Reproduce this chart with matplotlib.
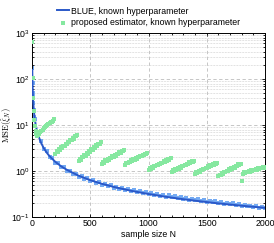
import numpy as np
import matplotlib
matplotlib.use("Agg")
import matplotlib.pyplot as plt
from matplotlib.ticker import MultipleLocator, LogLocator, NullFormatter

plt.rcParams["font.family"] = ["Liberation Sans", "DejaVu Sans"]
plt.rcParams["mathtext.fontset"] = "cm"

# BLUE (theoretical curve)
blue_n = [2, 3, 4, 5, 6, 8, 10, 15, 20, 30, 40, 50, 75, 100, 125, 150, 200, 250, 300,
          400, 500, 600, 700, 850, 1000, 1150, 1300, 1450, 1600, 1800, 2000]
blue_mse = [160, 107, 80, 64, 53, 40, 32, 21.3, 16, 10.7, 8.0, 6.4, 4.27, 3.2, 2.56, 2.13,
            1.6, 1.28, 1.07, 0.8, 0.64, 0.533, 0.457, 0.376, 0.32, 0.278, 0.246, 0.221,
            0.2, 0.178, 0.16]

# BLUE (empirical points)
emp_n = [2, 4, 6, 8, 10, 15, 20] + list(range(25, 2001, 25))
emp_mse = [175, 85, 50, 42, 30, 22, 15,
           13.5, 6.1, 4.5, 3.0, 2.7, 2.05, 1.92, 1.52, 1.49, 1.22, 1.21, 1.02,
           1.03, 0.87, 0.89, 0.76, 0.79, 0.68, 0.70, 0.61, 0.64, 0.55, 0.58, 0.51,
           0.535, 0.47, 0.50, 0.44, 0.46, 0.41, 0.435, 0.385, 0.405, 0.37, 0.385, 0.35,
           0.37, 0.335, 0.355, 0.32, 0.335, 0.305, 0.325, 0.29, 0.31, 0.28, 0.30, 0.27,
           0.285, 0.26, 0.275, 0.25, 0.265, 0.24, 0.255, 0.235, 0.245, 0.225, 0.24, 0.215,
           0.23, 0.21, 0.22, 0.20, 0.215, 0.195, 0.205, 0.19, 0.20, 0.185, 0.19, 0.18,
           0.185, 0.172, 0.18, 0.167, 0.175, 0.162, 0.17, 0.158]

# proposed estimator
green_n = ([1, 5, 10, 15, 20, 25, 30, 35, 40, 50, 60, 70, 80, 90, 100, 110, 120, 130,
            140, 150, 160, 170, 180, 190] + list(range(200, 2001, 10)))
green_mse = [650, 105, 40, 20, 13, 9.5, 7.5, 6.3, 5.8, 6.0, 6.5, 7.0, 7.6, 8.0, 8.6, 9.0,
             9.6, 10.0, 10.6, 11.0, 11.6, 12.0, 12.6, 13.5,
             2.4, 2.75, 2.6, 3.0, 2.9, 3.3, 3.2, 3.6, 3.5, 4.0, 3.9, 4.4, 4.3, 4.8, 4.7,
             5.3, 5.1, 5.8, 5.7, 6.2,
             1.65, 1.85, 1.8, 2.05, 2.0, 2.25, 2.2, 2.45, 2.4, 2.75, 2.65, 3.0, 2.95, 3.3,
             3.25, 3.65, 3.5, 4.0, 3.9, 4.3,
             1.45, 1.6, 1.55, 1.72, 1.68, 1.84, 1.8, 1.98, 1.92, 2.1, 2.05, 2.26, 2.2, 2.42,
             2.35, 2.6, 2.52, 2.78, 2.7, 2.9,
             1.4, 1.53, 1.5, 1.62, 1.6, 1.72, 1.68, 1.82, 1.78, 1.93, 1.88, 2.05, 2.0, 2.16,
             2.1, 2.3, 2.24, 2.42, 2.36, 2.5,
             1.06, 1.16, 1.13, 1.24, 1.2, 1.3, 1.27, 1.38, 1.35, 1.46, 1.42, 1.55, 1.51, 1.64,
             1.6, 1.74, 1.7, 1.84, 1.8, 1.9,
             0.95, 1.04, 1.01, 1.1, 1.07, 1.17, 1.13, 1.24, 1.2, 1.31, 1.27, 1.38, 1.35, 1.47,
             1.42, 1.56, 1.51, 1.65, 1.6, 1.7,
             0.87, 0.95, 0.93, 1.01, 0.98, 1.07, 1.04, 1.13, 1.1, 1.2, 1.16, 1.27, 1.23, 1.34,
             1.3, 1.42, 1.38, 1.51, 1.46, 1.55,
             0.78, 0.85, 0.83, 0.91, 0.88, 0.97, 0.94, 1.03, 1.0, 1.1, 1.06, 1.17, 1.13, 1.24,
             1.2, 1.32, 1.28, 1.41, 1.36, 1.45,
             0.62, 0.88, 0.94, 0.92, 0.97, 0.95, 1.0, 0.98, 1.04, 1.01, 1.07, 1.05, 1.11, 1.08,
             1.15, 1.12, 1.19, 1.16, 1.23, 1.2, 1.25]

fig = plt.figure(figsize=(2.74, 2.43), dpi=100)
ax = fig.add_axes([0.117, 0.106, 0.85, 0.757])

ax.scatter(emp_n, emp_mse, s=6, marker="s", color="#74aaf2", linewidths=0, zorder=2)
ax.plot(blue_n, blue_mse, color="#2a58c8", lw=1.4, zorder=3,
        label="BLUE, known hyperparameter")
ax.scatter(green_n, green_mse, s=6, marker="s", color="#86e8a0", linewidths=0, zorder=4,
           label="proposed estimator, known hyperparameter")

ax.set_yscale("log")
ax.set_xlim(0, 2000)
ax.set_ylim(0.1, 1000)
ax.xaxis.set_major_locator(MultipleLocator(500))
ax.xaxis.set_minor_locator(MultipleLocator(100))
ax.yaxis.set_major_locator(LogLocator(base=10, numticks=10))
ax.yaxis.set_minor_locator(LogLocator(base=10, subs=np.arange(2, 10), numticks=20))
ax.yaxis.set_minor_formatter(NullFormatter())

ax.grid(which="major", axis="both", color="#bdbdbd", ls=(0, (4, 3)), lw=0.6)
ax.grid(which="minor", axis="y", color="#c4c4c4", ls=(0, (1, 1.2)), lw=0.5)
ax.set_axisbelow(True)

ax.tick_params(which="both", direction="in", top=True, right=True, labelsize=6.3,
               width=0.6, pad=1.5)
ax.tick_params(which="major", length=2.5)
ax.tick_params(which="minor", length=1.5)
for s in ax.spines.values():
    s.set_linewidth(0.7)

ax.set_xlabel("sample size N", fontsize=6.3, labelpad=1)
ax.set_ylabel(r"$\mathrm{MSE}(\hat{\xi}_N)$", fontsize=6.2)
ax.yaxis.set_label_coords(-0.077, 0.5)

ax.legend(loc="lower center", bbox_to_anchor=(0.5, 1.0), frameon=False, fontsize=6.3,
          handlelength=1.4, handletextpad=0.3, labelspacing=0.3, borderaxespad=0.3,
          markerscale=1.0)

fig.savefig("out.png", dpi=100)
